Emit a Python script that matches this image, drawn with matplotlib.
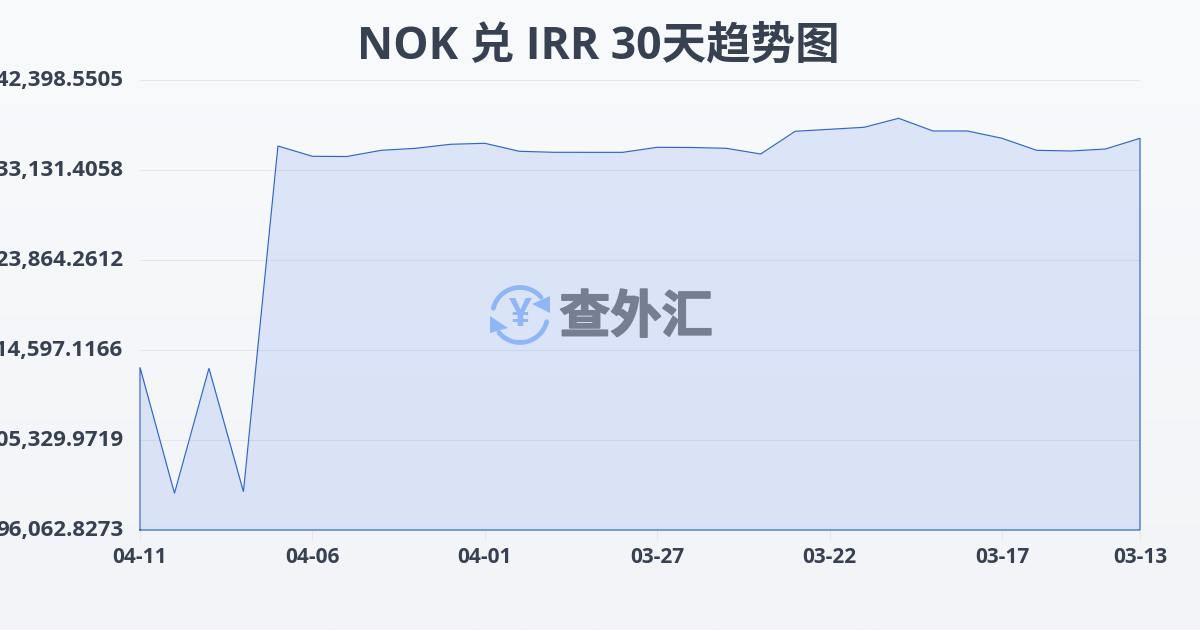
import numpy as np
import matplotlib
matplotlib.use('Agg')
import matplotlib.pyplot as plt
import matplotlib.patheffects as pe
from matplotlib.colors import LinearSegmentedColormap
from matplotlib.transforms import ScaledTranslation

#----------------------------------------------------------------------------------------#
# Inputs

dates = ['04-11', '04-10', '04-09', '04-08', '04-07', '04-06', '04-05', '04-04', '04-03', '04-02',
         '04-01', '03-31', '03-30', '03-29', '03-28', '03-27', '03-26', '03-25', '03-24', '03-23',
         '03-22', '03-21', '03-20', '03-19', '03-18', '03-17', '03-16', '03-15', '03-14', '03-13']

rates = [112815, 99842, 112713, 100007, 135603, 134542, 134520, 135160, 135366, 135778,
         135881, 135057, 134954, 134950, 134950, 135469, 135448, 135366, 134779, 137117,
         137323, 137529, 138455, 137147, 137147, 136396, 135160, 135088, 135294, 136396]

y_ticks = [96062.8273, 105329.9719, 114597.1166, 123864.2612, 133131.4058, 142398.5505]
x_ticks = [0, 5, 10, 15, 20, 25, 29]

title = 'NOK 兑 IRR 30天趋势图'
watermark = '查外汇'

text_color = '#374151'
grid_color = '#e5e7eb'
line_color = '#2f66c9'
icon_color = '#8fb6f5'

plt.rcParams['font.family'] = ['Open Sans', 'Noto Sans CJK SC', 'DejaVu Sans']

#----------------------------------------------------------------------------------------#
# Background

fig = plt.figure(figsize=(12, 6.3), dpi=100)

bg = fig.add_axes([0, 0, 1, 1], zorder=0)
bg_cmap = LinearSegmentedColormap.from_list('bg', ['#f9fafc', '#f3f4f7'])
bg.imshow(np.linspace(0, 1, 256).reshape(-1, 1), cmap=bg_cmap, aspect='auto')
bg.axis('off')

#----------------------------------------------------------------------------------------#
# Chart

ax = fig.add_axes([140 / 1200, 100 / 630, 1000 / 1200, 450 / 630], zorder=1)
ax.patch.set_alpha(0)

x = np.arange(len(rates))
ax.fill_between(x, rates, y_ticks[0], color='#2563eb', alpha=0.125, lw=0, zorder=2)
ax.plot(np.r_[x[0], x, x[-1], x[0]], np.r_[y_ticks[0], rates, y_ticks[0], y_ticks[0]],
        color=line_color, lw=0.85, zorder=3, clip_on=False, solid_joinstyle='miter')

ax.set_xlim(0, len(rates) - 1)
ax.set_ylim(y_ticks[0], y_ticks[-1])
ax.set_xticks(x_ticks)
ax.set_xticklabels([dates[i] for i in x_ticks])
ax.set_yticks(y_ticks)
ax.set_yticklabels(['{:,.4f}'.format(v) for v in y_ticks])
ax.grid(axis='y', color=grid_color, lw=0.8, zorder=1)

for spine in ax.spines.values():
    spine.set_visible(False)

ax.tick_params(axis='y', length=0, pad=12)
ax.tick_params(axis='x', length=7, width=0.8, color=grid_color, pad=5.5)
for label in ax.get_xticklabels():
    label.set(fontweight='bold', fontsize=15, color=text_color)

# y labels sit about 2px above their grid lines in the original
nudge = ScaledTranslation(0, 2 / 100, fig.dpi_scale_trans)
for label in ax.get_yticklabels():
    label.set(fontweight='bold', fontsize=16, color=text_color)
    label.set_transform(label.get_transform() + nudge)

#----------------------------------------------------------------------------------------#
# Title and watermark, drawn in pixel coordinates

top = fig.add_axes([0, 0, 1, 1], zorder=2)
top.set_xlim(0, 1200)
top.set_ylim(630, 0)
top.axis('off')

top.text(598, 47, title, ha='center', va='center', fontsize=32, fontweight='bold',
         color=text_color)

top.text(636, 319, watermark, ha='center', va='center', fontsize=36.8, fontweight='black',
         color='#767f92', path_effects=[pe.withStroke(linewidth=1.2, foreground='#767f92')])

cx, cy, r = 520, 315, 27.5
for a0, a1 in [(166, 40), (-14, -140)]:
    t = np.radians(np.linspace(a0, a1, 60))
    top.plot(cx + r * np.cos(t), cy - r * np.sin(t), color=icon_color, lw=3.4, solid_capstyle='round')
top.fill([550, 550, 532], [296, 313, 304], color=icon_color, lw=0)
top.fill([490, 490, 508], [316, 333, 328], color=icon_color, lw=0)
top.text(cx, cy, '¥', ha='center', va='center', fontsize=29, fontweight='bold', color=icon_color)

fig.savefig('out.png', dpi=100)
